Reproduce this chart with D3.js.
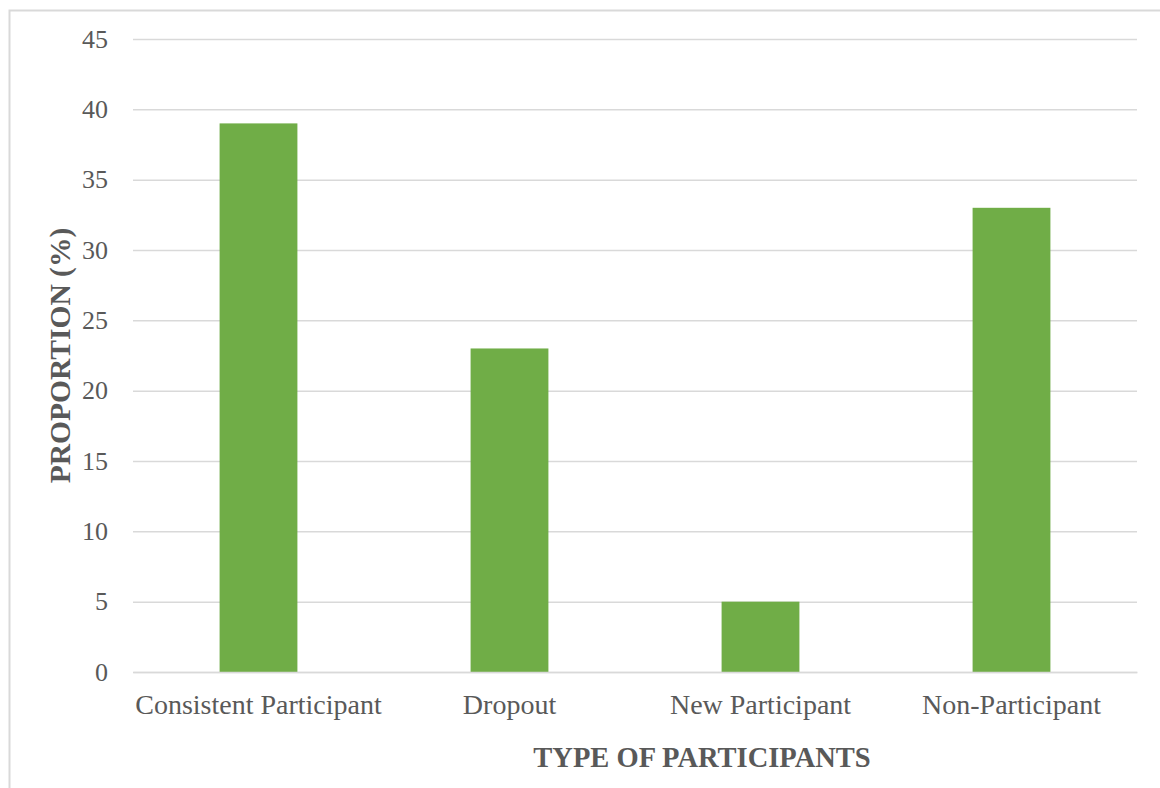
<!DOCTYPE html>
<html>
<head>
<meta charset="utf-8">
<script src="https://cdn.jsdelivr.net/npm/d3@7"></script>
<style>
  html, body { margin: 0; padding: 0; background: #fff; }
  svg { display: block; }
  text { font-family: "Liberation Serif", "Times New Roman", serif; }
</style>
</head>
<body>
<svg id="chart" width="1160" height="788"></svg>
<script>
// Share of respondents by participation type
const categories = ["Consistent Participant", "Dropout", "New Participant", "Non-Participant"];
const proportions = [39, 23, 5, 33];
const yTicks = [0, 5, 10, 15, 20, 25, 30, 35, 40, 45];

const svg = d3.select("#chart");
const W = 1160, H = 788;
const plot = { left: 133, right: 1137, top: 39, bottom: 672 };

// outer frame of the chart area
svg.append("rect")
  .attr("x", 9.5).attr("y", 10.5)
  .attr("width", W).attr("height", H)
  .attr("fill", "#fff")
  .attr("stroke", "#d9d9d9")
  .attr("stroke-width", 2);

const x = d3.scaleBand()
  .domain(categories)
  .range([plot.left, plot.right])
  .paddingInner(0.69)
  .paddingOuter(0.345);

const y = d3.scaleLinear()
  .domain([0, 45])
  .range([plot.bottom, plot.top]);

// horizontal gridlines with tick labels
const yAxis = d3.axisLeft(y)
  .tickValues(yTicks)
  .tickSize(-(plot.right - plot.left))
  .tickPadding(25)
  .tickFormat(d3.format("d"));

const gy = svg.append("g")
  .attr("transform", `translate(${plot.left},0)`)
  .call(yAxis);
gy.select(".domain").remove();
gy.selectAll(".tick line")
  .attr("stroke", "#d9d9d9")
  .attr("stroke-width", 1.5);
gy.selectAll(".tick text")
  .attr("fill", "#595959")
  .style("font-size", "26px");

// bars
svg.append("g")
  .selectAll("rect")
  .data(categories)
  .join("rect")
  .attr("x", d => x(d))
  .attr("width", x.bandwidth())
  .attr("y", (d, i) => y(proportions[i]))
  .attr("height", (d, i) => y(0) - y(proportions[i]))
  .attr("fill", "#70ad47");

// category axis
const xAxis = d3.axisBottom(x).tickSize(0).tickPadding(22);
const gx = svg.append("g")
  .attr("transform", `translate(0,${plot.bottom})`)
  .call(xAxis);
gx.select(".domain")
  .attr("stroke", "#d9d9d9")
  .attr("stroke-width", 1.5);
gx.selectAll(".tick text")
  .attr("fill", "#595959")
  .style("font-size", "28px");

// axis titles
svg.append("text")
  .attr("x", 702)
  .attr("y", 767)
  .attr("text-anchor", "middle")
  .attr("fill", "#595959")
  .style("font-size", "28.5px")
  .style("font-weight", "bold")
  .text("TYPE OF PARTICIPANTS");

svg.append("text")
  .attr("transform", `translate(70,${(plot.top + plot.bottom) / 2}) rotate(-90)`)
  .attr("text-anchor", "middle")
  .attr("fill", "#595959")
  .style("font-size", "29.5px")
  .style("font-weight", "bold")
  .text("PROPORTION (%)");
</script>
</body>
</html>
